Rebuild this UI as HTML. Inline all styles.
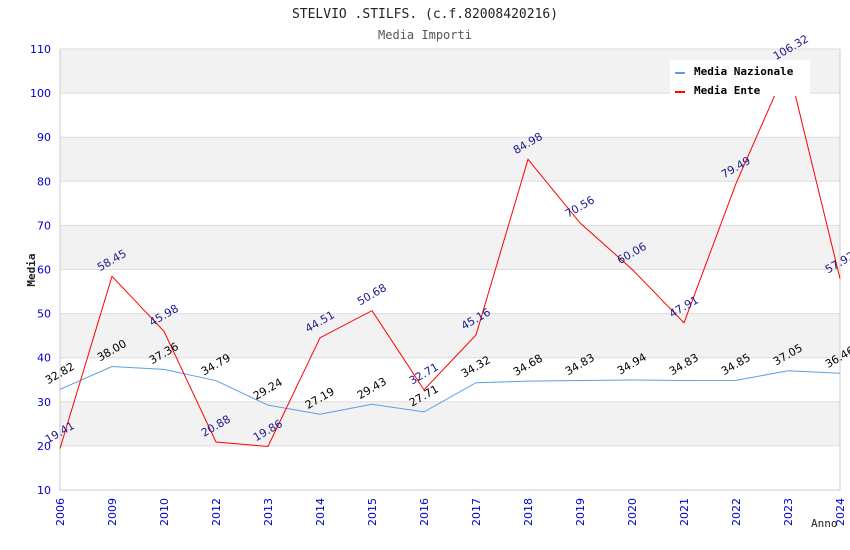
<!DOCTYPE html>
<html><head><meta charset="utf-8"><style>
body{margin:0;background:#fff}
svg{display:block;font-family:"DejaVu Sans",sans-serif}
</style></head><body>
<svg id="c" width="850" height="550">
<text x="425" y="18" text-anchor="middle" font-family="DejaVu Sans Mono,monospace" font-size="13" fill="#222">STELVIO .STILFS. (c.f.82008420216)</text>
<text x="425" y="39" text-anchor="middle" font-family="DejaVu Sans Mono,monospace" font-size="12" fill="#555">Media Importi</text>
<g id="bands"></g><g id="grid"></g><g id="axes"></g><g id="series"></g><g id="labels"></g>
<text x="35" y="270" transform="rotate(-90 35 270)" text-anchor="middle" font-family="DejaVu Sans Mono,monospace" font-size="11" font-weight="bold" fill="#222">Media</text>
<text x="811" y="527" font-family="DejaVu Sans Mono,monospace" font-size="11" fill="#222">Anno</text>
<g>
<rect x="670" y="60" width="140" height="36" fill="#fff"/>
<rect x="675" y="72" width="10" height="2" fill="#5aa0e6"/>
<text x="694" y="75" font-family="DejaVu Sans Mono,monospace" font-size="11" font-weight="bold" fill="#000">Media Nazionale</text>
<rect x="675" y="91" width="10" height="2" fill="#f00"/>
<text x="694" y="94" font-family="DejaVu Sans Mono,monospace" font-size="11" font-weight="bold" fill="#000">Media Ente</text>
</g>
</svg>
<script>
const categories=["2006","2009","2010","2012","2013","2014","2015","2016","2017","2018","2019","2020","2021","2022","2023","2024"];
const enteValues=[19.41,58.45,45.98,20.88,19.86,44.51,50.68,32.71,45.16,84.98,70.56,60.06,47.91,79.49,106.32,57.92];
const nazValues=[32.82,38.00,37.36,34.79,29.24,27.19,29.43,27.71,34.32,34.68,34.83,34.94,34.83,34.85,37.05,36.46];
const yTicks=[10,20,30,40,50,60,70,80,90,100,110];
const NS="http://www.w3.org/2000/svg";
const L=60,R=840,T=49,B=490,yMin=10,yMax=110;
const x=i=>L+i*(R-L)/(categories.length-1);
const y=v=>B-(v-yMin)/(yMax-yMin)*(B-T);
function mk(tag,attrs,parent){const e=document.createElementNS(NS,tag);for(const k in attrs)e.setAttribute(k,attrs[k]);document.getElementById(parent).appendChild(e);return e;}
for(let i=0;i<yTicks.length-1;i++){
  if(i%2===1){const b=mk('rect',{x:L,y:y(yTicks[i+1]),width:R-L,height:y(yTicks[i])-y(yTicks[i+1]),fill:'#f2f2f2'},'bands');
  
  }
}
yTicks.forEach(t=>{
  const g=mk('line',{x1:L,x2:R,y1:y(t),y2:y(t),stroke:'#ddd','stroke-width':1},'grid');
  
  
  const tx=mk('text',{x:L-9,y:y(t)+4,'text-anchor':'end','font-size':11,fill:'#00c'},'axes');
  tx.textContent=t;
  
  
});
const ax=mk('path',{d:`M${L},${T}V${B}H${R}V${T}`,fill:'none',stroke:'#ccc'},'axes');


categories.forEach((c,i)=>{
  const tx=mk('text',{x:x(i)+4,y:B+8,'text-anchor':'end','font-size':11,fill:'#00c',transform:`rotate(-90 ${x(i)+4} ${B+8})`},'axes');
  tx.textContent=c;
  
  
});
function series(vals,color,name,lc){
  const p=mk('polyline',{points:vals.map((v,i)=>x(i)+','+y(v)).join(' '),fill:'none',stroke:color,'stroke-width':1},'series');
  
  
  vals.forEach((v,i)=>{
    const px=x(i)-12,py=y(v)-5;
    const t=mk('text',{x:px,y:py,'font-size':11,fill:lc,transform:`rotate(-30 ${px} ${py})`},'labels');
    t.textContent=v.toFixed(2);
    
    
  });
}
series(nazValues,'#5aa0e6','nazionale','#000');
series(enteValues,'#f00','ente','#1a1a8c');
</script>
</body></html>
